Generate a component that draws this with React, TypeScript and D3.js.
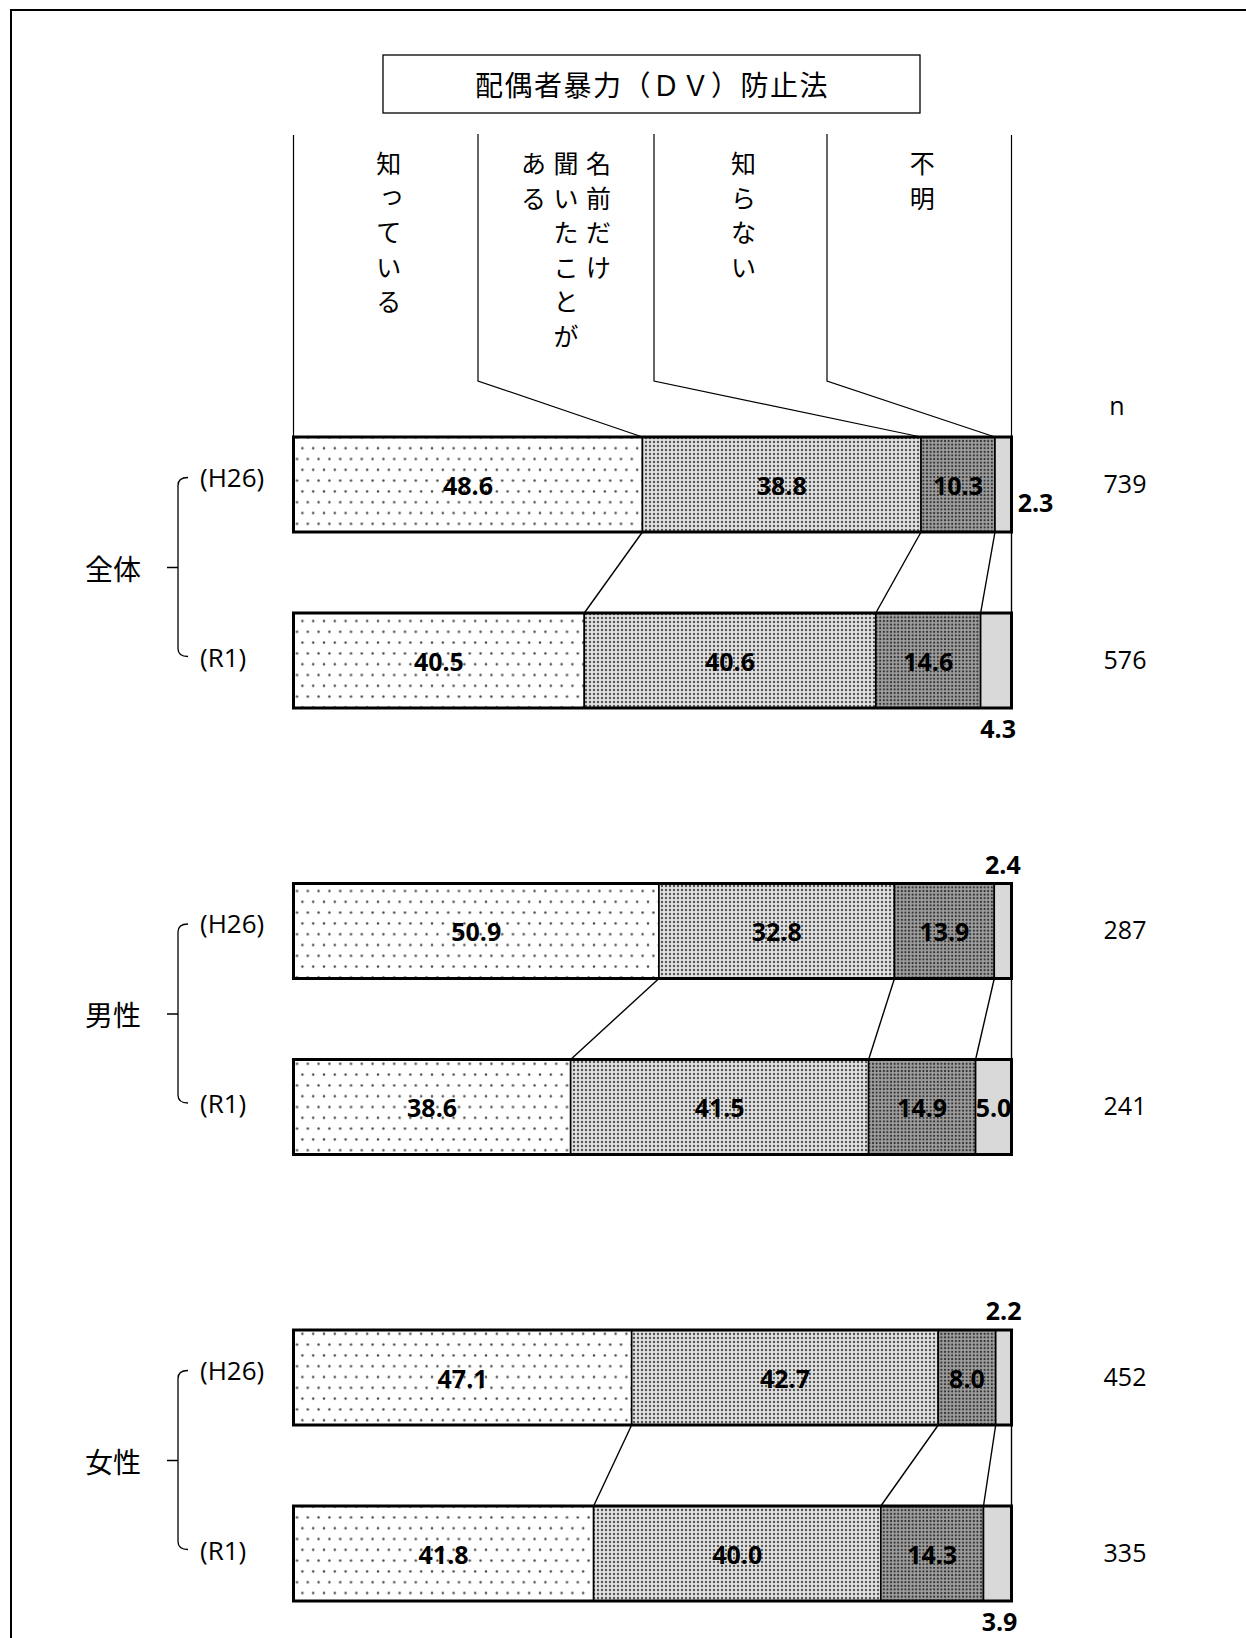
import React from 'react';
import * as d3 from 'd3';

const title = '配偶者暴力（ＤＶ）防止法';
const categories = ['知っている', '名前だけ聞いたことがある', '知らない', '不明'];
const categoryColumns = [['知っている'], ['名前だけ', '聞いたことが', 'ある'], ['知らない'], ['不明']];
const groups = ['全体', '男性', '女性'];
const periods = ['(H26)', '(R1)'];

const allH26 = [48.6, 38.8, 10.3, 2.3];
const allR1 = [40.5, 40.6, 14.6, 4.3];
const maleH26 = [50.9, 32.8, 13.9, 2.4];
const maleR1 = [38.6, 41.5, 14.9, 5.0];
const femaleH26 = [47.1, 42.7, 8.0, 2.2];
const femaleR1 = [41.8, 40.0, 14.3, 3.9];
const groupValues = [[allH26, allR1], [maleH26, maleR1], [femaleH26, femaleR1]];

const nValues = [[739, 576], [287, 241], [452, 335]];
// where the small "不明" value label goes
const smallLabelPlacement = [['right', 'below'], ['above', 'inside'], ['above', 'below']];

const W = 1246;
const H = 1638;
const BAR_H = 95;
const FIRST_TOP = 437;
const GROUP_STEP = 446.5;
const PERIOD_STEP = 176;
const HEADER_DIVIDERS = [478, 654, 827];
const HEADER_TOP = 135;
const HEADER_BEND = 381;

const fills = ['url(#patA)', 'url(#patB)', 'url(#patC)', '#d9d9d9'];
const LATIN = '"Open Sans", "Noto Sans", sans-serif';
const CJK = '"Noto Sans CJK JP", "Noto Sans", sans-serif';

export default function App() {
  const x = d3.scaleLinear().domain([0, 100]).range([293.5, 1011.5]);
  const barTop = (g: number, p: number) => FIRST_TOP + g * GROUP_STEP + p * PERIOD_STEP;
  const cum = (vals: number[]) => [0, ...Array.from(d3.cumsum(vals))];

  const headerCum = cum(groupValues[0][0]);
  const colEdges = [x(0), ...HEADER_DIVIDERS, x(100)];

  return (
    <svg width={W} height={H} style={{ position: 'absolute', left: 0, top: 0, background: '#fff' }}>
      <defs>
        <pattern id="patA" patternUnits="userSpaceOnUse" width={21.6} height={21.6}>
          <rect width={21.6} height={21.6} fill="#fff" />
          <circle cx={5.4} cy={5.4} r={1.2} fill="#444" />
          <circle cx={16.2} cy={5.4} r={1.2} fill="#444" />
          <circle cx={10.8} cy={16.2} r={1.2} fill="#444" />
          <circle cx={0} cy={16.2} r={1.2} fill="#444" />
          <circle cx={21.6} cy={16.2} r={1.2} fill="#444" />
        </pattern>
        <pattern id="patB" patternUnits="userSpaceOnUse" width={4} height={4}>
          <rect width={4} height={4} fill="#e2e2e2" />
          <circle cx={2} cy={2} r={1.2} fill="#555" />
        </pattern>
        <pattern id="patC" patternUnits="userSpaceOnUse" width={3.6} height={3.6}>
          <rect width={3.6} height={3.6} fill="#a0a0a0" />
          <circle cx={1.8} cy={1.8} r={1.1} fill="#333" />
        </pattern>
      </defs>

      {/* outer frame */}
      <rect x={11} y={10} width={1260} height={1700} fill="none" stroke="#000" strokeWidth={2} />

      {/* title box */}
      <rect x={383} y={55} width={537} height={58} fill="#fff" stroke="#000" strokeWidth={1.3} />
      <text x={652} y={84} textAnchor="middle" dominantBaseline="central" fontFamily={CJK} fontSize={28} letterSpacing={1.5} fill="#000">
        {title}
      </text>

      {/* header lines */}
      <line x1={x(0)} y1={HEADER_TOP} x2={x(0)} y2={barTop(0, 0)} stroke="#000" strokeWidth={1.2} />
      <line x1={x(100)} y1={HEADER_TOP} x2={x(100)} y2={barTop(0, 0)} stroke="#000" strokeWidth={1.2} />
      {HEADER_DIVIDERS.map((hx, i) => (
        <polyline
          key={'hd' + i}
          points={`${hx},${HEADER_TOP - 1} ${hx},${HEADER_BEND} ${x(headerCum[i + 1])},${barTop(0, 0)}`}
          fill="none"
          stroke="#000"
          strokeWidth={1.2}
        />
      ))}

      {/* vertical category labels */}
      {categoryColumns.map((cols, ci) => {
        const center = (colEdges[ci] + colEdges[ci + 1]) / 2;
        const n = cols.length;
        return cols.map((col, k) => {
          const cx = center + ((n - 1) / 2 - k) * 32.5 + (n === 1 ? 3 : 0);
          return Array.from(col).map((ch, j) => {
            const small = ch === 'っ';
            return (
              <text
                key={`c${ci}-${k}-${j}`}
                x={cx + (small ? 3 : 0)}
                y={162 + j * 34.5 + (small ? -4 : 0)}
                textAnchor="middle"
                dominantBaseline="central"
                fontFamily={CJK}
                fontSize={25}
                fill="#000"
              >
                {ch}
              </text>
            );
          });
        });
      })}

      {/* n header */}
      <text x={1117} y={405} textAnchor="middle" dominantBaseline="central" fontFamily={LATIN} fontSize={25} fill="#000">
        n
      </text>

      {groups.map((gName, g) => {
        const [vH, vR] = groupValues[g];
        const cH = cum(vH);
        const cR = cum(vR);
        const topH = barTop(g, 0);
        const topR = barTop(g, 1);
        const midH = topH + BAR_H / 2;
        const midR = topR + BAR_H / 2;
        const mid = (midH + midR) / 2 - 5;
        const bx = 178;
        const bTop = midH - 7;
        const bBot = midR - 4;
        return (
          <g key={gName}>
            {/* group label & bracket */}
            <text x={113} y={mid} textAnchor="middle" dominantBaseline="central" fontFamily={CJK} fontSize={28} fill="#000">
              {gName}
            </text>
            <path
              d={`M${bx + 10},${bTop} Q${bx},${bTop} ${bx},${bTop + 8} L${bx},${bBot - 8} Q${bx},${bBot} ${bx + 10},${bBot} M${bx - 11},${mid} L${bx},${mid}`}
              fill="none"
              stroke="#000"
              strokeWidth={1.3}
            />
            {periods.map((pName, p) => (
              <text
                key={pName}
                x={200}
                y={p === 0 ? midH - 8 : midR - 4}
                dominantBaseline="central"
                fontFamily={LATIN}
                fontSize={26}
                fill="#000"
              >
                {pName}
              </text>
            ))}

            {/* connectors */}
            {[1, 2, 3, 4].map((k) => (
              <line
                key={'cn' + k}
                x1={x(cH[k])}
                y1={topH + BAR_H}
                x2={x(cR[k])}
                y2={topR}
                stroke="#000"
                strokeWidth={1.4}
              />
            ))}

            {[vH, vR].map((vals, p) => {
              const c = p === 0 ? cH : cR;
              const top = p === 0 ? topH : topR;
              const place = smallLabelPlacement[g][p];
              return (
                <g key={'bar' + p}>
                  {vals.map((v, i) => (
                    <rect
                      key={'s' + i}
                      x={x(c[i])}
                      y={top}
                      width={x(c[i + 1]) - x(c[i])}
                      height={BAR_H}
                      fill={fills[i]}
                      stroke="#000"
                      strokeWidth={1.6}
                    />
                  ))}
                  <rect x={x(0)} y={top} width={x(100) - x(0)} height={BAR_H} fill="none" stroke="#000" strokeWidth={3} />
                  {vals.map((v, i) => {
                    let lx = (x(c[i]) + x(c[i + 1])) / 2;
                    let ly = top + BAR_H / 2;
                    if (i === 3) {
                      if (place === 'right') {
                        lx = x(100) + 24;
                        ly = top + BAR_H / 2 + 17;
                      } else if (place === 'below') {
                        lx += 2;
                        ly = top + BAR_H + 20;
                      } else if (place === 'above') {
                        ly = top - 20;
                      }
                    }
                    return (
                      <text
                        key={'l' + i}
                        x={lx}
                        y={ly}
                        textAnchor="middle"
                        dominantBaseline="central"
                        fontFamily={LATIN}
                        fontWeight="bold"
                        fontSize={25}
                        fill="#000"
                      >
                        {v.toFixed(1)}
                      </text>
                    );
                  })}
                  <text
                    x={1125}
                    y={top + BAR_H / 2 - 2}
                    textAnchor="middle"
                    dominantBaseline="central"
                    fontFamily={LATIN}
                    fontSize={25}
                    fill="#000"
                  >
                    {nValues[g][p]}
                  </text>
                </g>
              );
            })}
          </g>
        );
      })}
    </svg>
  );
}
